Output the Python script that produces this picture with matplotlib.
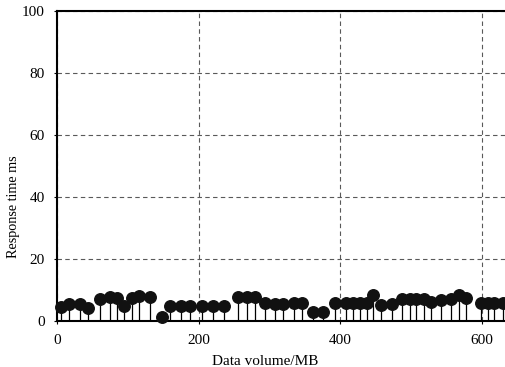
import matplotlib.pyplot as plt

plt.rcParams['font.family'] = ['Liberation Serif', 'DejaVu Serif']

# data volume (MB) and response time (ms)
volume = [5, 17, 32, 43, 60, 75, 84, 95, 106, 116, 131, 148, 159, 175, 188,
          204, 220, 236, 255, 268, 279, 293, 308, 319, 334, 346, 362, 376,
          392, 408, 418, 428, 438, 447, 458, 473, 488, 498, 507, 519, 528,
          542, 557, 568, 578, 599, 609, 618, 630]
response = [4.6, 5.5, 5.5, 4.3, 7.0, 7.8, 7.3, 4.8, 7.3, 8.0, 7.8, 1.2, 5.0,
            5.0, 5.0, 5.0, 5.0, 5.0, 7.8, 7.8, 7.8, 5.7, 5.5, 5.5, 5.9, 5.9,
            3.0, 3.0, 5.9, 5.9, 5.9, 5.9, 5.9, 8.4, 5.2, 5.5, 7.0, 7.0, 7.0,
            7.0, 6.2, 6.8, 7.0, 8.4, 7.3, 5.7, 5.7, 5.7, 5.7]

fig = plt.figure(figsize=(5.06, 3.67), dpi=100)
ax = fig.add_axes([0.113, 0.125, 0.895, 0.845])

ax.vlines(volume, 0, response, color='black', lw=0.9)
ax.plot(volume, response, 'o', color='#111111', markersize=8.3, clip_on=False, zorder=3)

ax.set_xlim(0, 640)
ax.set_ylim(0, 100)
ax.set_xticks([0, 200, 400, 600])
ax.set_yticks([0, 20, 40, 60, 80, 100])
ax.grid(True, color='0.35', linestyle=(0, (4, 3)), lw=0.8)
ax.tick_params(direction='out', length=2, width=0.8, pad=7, labelsize=11)
for s in ax.spines.values():
    s.set_linewidth(1.5)
ax.spines['right'].set_visible(False)

ax.set_xlabel('Data volume/MB', fontsize=11)
ax.xaxis.set_label_coords(0.459, -0.11)
ax.set_ylabel('Response time ms', fontsize=10.2)
ax.yaxis.set_label_coords(-0.083, 0.37)

fig.savefig('out.png', dpi=100)
